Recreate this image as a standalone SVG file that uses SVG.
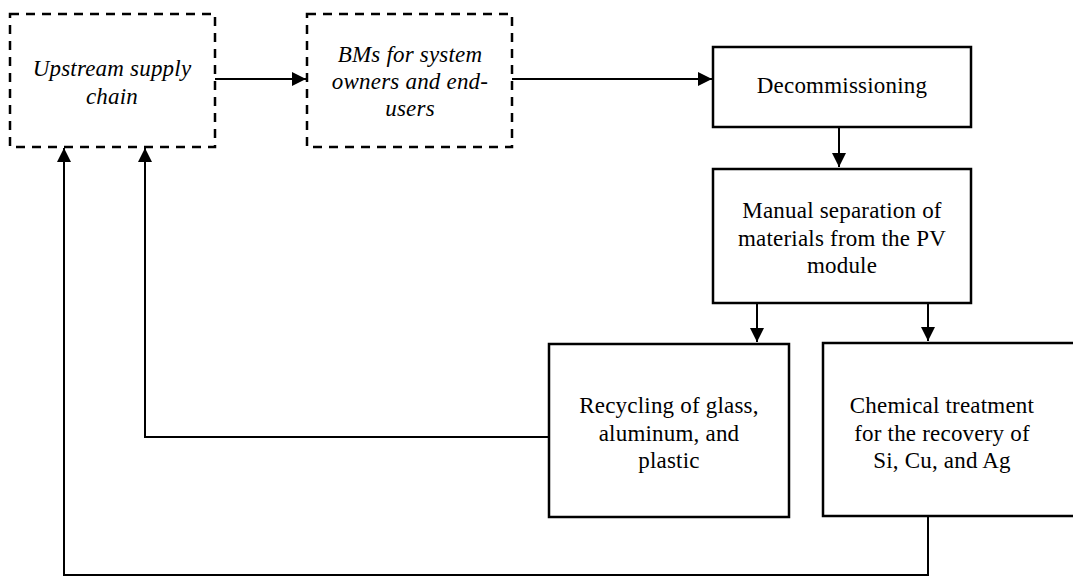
<svg xmlns="http://www.w3.org/2000/svg" width="1073" height="576" viewBox="0 0 1073 576">
<style>
.box{fill:#fff;stroke:#000;stroke-width:2.5}
.dash{fill:#fff;stroke:#000;stroke-width:2.5;stroke-dasharray:9 7}
.t{font-family:"Liberation Serif","DejaVu Serif",serif;font-size:23px;letter-spacing:0.2px;fill:#000;text-anchor:middle}
.i{font-style:italic}
.c{fill:none;stroke:#000;stroke-width:2}
</style>
<defs>
<marker id="ah" viewBox="0 0 10 10" refX="10" refY="5" markerWidth="7" markerHeight="7" orient="auto" markerUnits="strokeWidth">
<path d="M0,0 L10,5 L0,10 z" fill="#000"/>
</marker>
</defs>
<rect width="1073" height="576" fill="#fff"/>
<g id="connectors">
<path class="c" d="M215,79 H306" marker-end="url(#ah)"/>
<path class="c" d="M512,79 H712" marker-end="url(#ah)"/>
<path class="c" d="M839,127 V167" marker-end="url(#ah)"/>
<path class="c" d="M757,303 V342" marker-end="url(#ah)"/>
<path class="c" d="M928,303 V341" marker-end="url(#ah)"/>
<path class="c" d="M549,437 H145 V148" marker-end="url(#ah)"/>
<path class="c" d="M928,516 V575 H64 V148" marker-end="url(#ah)"/>
</g>
<g id="upstream">
<rect class="dash" x="10" y="14" width="205" height="133"/>
<text class="t i" x="112" y="76">Upstream supply</text>
<text class="t i" x="112" y="104">chain</text>
</g>
<g id="bms">
<rect class="dash" x="307" y="14" width="205" height="133"/>
<text class="t i" x="410" y="62">BMs for system</text>
<text class="t i" x="410" y="89">owners and end-</text>
<text class="t i" x="410" y="116">users</text>
</g>
<g id="decommissioning">
<rect class="box" x="713" y="47" width="258" height="80"/>
<text class="t" x="842" y="93">Decommissioning</text>
</g>
<g id="manual">
<rect class="box" x="713" y="169" width="258" height="134"/>
<text class="t" x="842" y="218">Manual separation of</text>
<text class="t" x="842" y="246">materials from the PV</text>
<text class="t" x="842" y="273">module</text>
</g>
<g id="recycling">
<rect class="box" x="549" y="344" width="240" height="173"/>
<text class="t" x="669" y="413">Recycling of glass,</text>
<text class="t" x="669" y="441">aluminum, and</text>
<text class="t" x="669" y="468">plastic</text>
</g>
<g id="chemical">
<rect class="box" x="823" y="343" width="260" height="173"/>
<text class="t" x="942" y="413">Chemical treatment</text>
<text class="t" x="942" y="441">for the recovery of</text>
<text class="t" x="942" y="468">Si, Cu, and Ag</text>
</g>
</svg>
